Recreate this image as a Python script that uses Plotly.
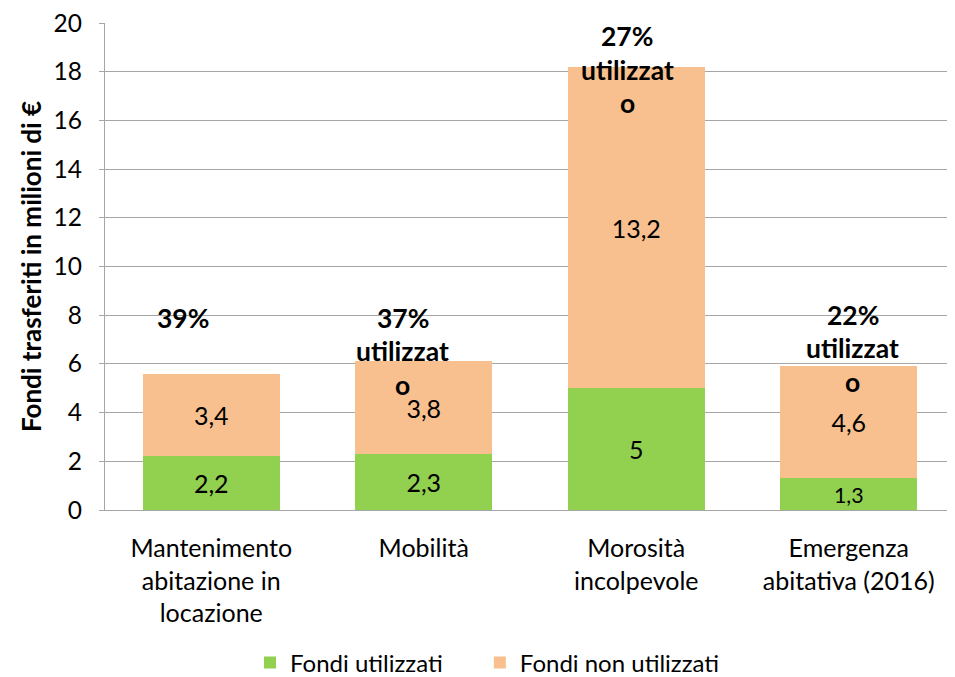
import plotly.graph_objects as go

categories = ["Mantenimento<br>abitazione in<br>locazione", "Mobilità", "Morosità<br>incolpevole", "Emergenza<br>abitativa (2016)"]
fondi_utilizzati = [2.2, 2.3, 5, 1.3]
fondi_non_utilizzati = [3.4, 3.8, 13.2, 4.6]
label_utilizzati = ["2,2", "2,3", "5", "1,3"]
label_non_utilizzati = ["3,4", "3,8", "13,2", "4,6"]
pct_lines = [["39%"], ["37%", "utilizzat", "o"], ["27%", "utilizzat", "o"], ["22%", "utilizzat", "o"]]
pct_first_y = [7.9, 7.9, 19.47, 8.02]
pct_xshift = [-28, -21, -9, 4]
line_step = 1.385

FONT = "Lato"
GREEN = "#92D050"
ORANGE = "#F9C08F"

fig = go.Figure()
fig.add_trace(go.Bar(x=categories, y=fondi_utilizzati, name="Fondi utilizzati",
                     marker=dict(color=GREEN, line=dict(width=0)), legend="legend",
                     text=label_utilizzati, textposition="inside", insidetextanchor="middle",
                     textfont=dict(family=FONT, size=25, color="black"), textangle=0))
fig.add_trace(go.Bar(x=categories, y=fondi_non_utilizzati, name="Fondi non utilizzati",
                     marker=dict(color=ORANGE, line=dict(width=0)), legend="legend2",
                     text=label_non_utilizzati, textposition="inside", insidetextanchor="middle",
                     textfont=dict(family=FONT, size=25, color="black"), textangle=0))

for cat, lines, y0, xs in zip(categories, pct_lines, pct_first_y, pct_xshift):
    for i, t in enumerate(lines):
        fig.add_annotation(x=cat, y=y0 - i * line_step, xref="x", yref="y", text="<b>%s</b>" % t,
                           showarrow=False, xshift=xs, yanchor="middle",
                           font=dict(family=FONT, size=26.5, color="black"))

legend_common = dict(orientation="h", xanchor="left", y=0.021, yanchor="middle", yref="container",
                     font=dict(family=FONT, size=24, color="black"), itemsizing="constant",
                     bgcolor="rgba(0,0,0,0)")

fig.update_layout(
    barmode="stack",
    bargap=0.355,
    width=947, height=669,
    margin=dict(l=97, r=0, t=15, b=167, autoexpand=False),
    plot_bgcolor="white", paper_bgcolor="white",
    font=dict(family=FONT, size=25, color="black"),
    showlegend=True,
    legend=dict(x=0.1706, **legend_common),
    legend2=dict(x=0.441, **legend_common),
    uniformtext=dict(mode=False),
)
fig.update_yaxes(range=[0, 20], dtick=2, tick0=0, showgrid=True, gridcolor="#A6A6A6", gridwidth=1.3,
                 showline=True, linecolor="#A6A6A6", linewidth=1.3, ticks="outside", ticklen=5,
                 tickcolor="#A6A6A6", tickfont=dict(family=FONT, size=24.5, color="black"),
                 ticklabelstandoff=12, ticklabeloverflow="allow", automargin=False,
                 zeroline=False, fixedrange=True,
                 title=dict(text="<b>Fondi trasferiti in milioni di €</b>", standoff=4,
                            font=dict(family=FONT, size=26, color="black")))
fig.update_xaxes(showline=True, linecolor="#A6A6A6", linewidth=1.3, ticks="",
                 automargin=False, ticklabelstandoff=16,
                 tickfont=dict(family=FONT, size=25, color="black"))

fig.write_html("out.html")
